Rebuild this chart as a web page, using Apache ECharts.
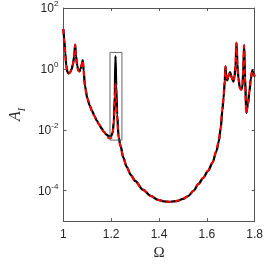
<!DOCTYPE html>
<html>
<head>
<meta charset="utf-8">
<script src="https://cdn.jsdelivr.net/npm/echarts@6/dist/echarts.min.js"></script>
<style>html,body{margin:0;padding:0;background:#fff}#c{width:266px;height:266px}</style>
</head>
<body>
<div id="c"></div>
<script>
// Frequency Omega
const omega = [1.000,1.004,1.008,1.012,1.017,1.022,1.028,1.034,1.040,1.045,1.0495,1.053,1.058,1.063,1.067,1.072,1.077,1.081,1.085,1.090,1.100,1.110,1.120,1.130,1.140,1.150,1.160,1.170,1.180,1.190,1.200,1.206,1.211,1.215,1.218,1.221,1.225,1.231,1.240,1.250,1.265,1.282,1.300,1.333,1.365,1.396,1.420,1.447,1.475,1.500,1.522,1.545,1.565,1.585,1.605,1.624,1.640,1.650,1.658,1.665,1.670,1.675,1.678,1.681,1.685,1.690,1.697,1.704,1.711,1.716,1.720,1.724,1.728,1.732,1.738,1.744,1.749,1.752,1.756,1.760,1.765,1.772,1.778,1.784,1.790,1.795,1.800];
// Amplitude A_I, black solid series
const ampBlack = [20.4,8.71,3.31,1.32,0.794,0.708,0.759,0.955,1.41,2.51,6.31,2.63,1.26,0.871,0.832,1.00,1.41,1.95,0.891,0.282,0.112,0.0631,0.0417,0.0282,0.0200,0.0148,0.0110,0.00851,0.00692,0.00617,0.00631,0.00794,0.0178,0.126,2.63,0.282,0.0316,0.00562,0.00282,0.00126,6.03e-4,3.31e-4,2.09e-4,1.07e-4,6.76e-5,5.01e-5,4.47e-5,4.27e-5,4.57e-5,5.37e-5,6.61e-5,1.00e-4,1.66e-4,2.63e-4,4.47e-4,8.32e-4,2.00e-3,4.17e-3,0.0112,0.0447,0.112,0.398,1.20,0.631,0.417,0.562,0.776,0.525,0.380,0.562,1.26,7.24,1.41,0.501,0.240,0.209,0.263,0.794,6.03,0.501,0.0355,0.0708,0.178,0.479,0.871,0.708,0.562];
// Amplitude A_I, red dashed series
const ampRed = [20.4,8.71,3.31,1.32,0.794,0.708,0.759,0.955,1.41,2.51,6.31,2.63,1.26,0.871,0.832,1.00,1.41,1.95,0.891,0.282,0.112,0.0631,0.0417,0.0282,0.0200,0.0148,0.0110,0.00851,0.00680,0.00525,0.00537,0.00760,0.0160,0.080,0.316,0.100,0.0250,0.00562,0.00282,0.00126,6.03e-4,3.31e-4,2.09e-4,1.07e-4,6.76e-5,5.01e-5,4.47e-5,4.27e-5,4.57e-5,5.37e-5,6.61e-5,1.00e-4,1.66e-4,2.63e-4,4.47e-4,8.32e-4,2.00e-3,4.17e-3,0.0112,0.0447,0.112,0.398,1.20,0.631,0.417,0.562,0.776,0.525,0.380,0.562,1.26,7.24,1.41,0.501,0.240,0.209,0.263,0.794,6.03,0.501,0.0355,0.0708,0.178,0.479,0.871,0.708,0.562];
// Zoom box corners
const boxOmega = [1.195,1.245,1.245,1.195,1.195];
const boxAmp = [3.47,3.47,0.00457,0.00457,3.47];
// Ticks
const xTicks = [1,1.2,1.4,1.6,1.8];
const yTicks = [1e-4,1e-2,1,1e2];

const pair = (xs, ys) => xs.map((x,i)=>[x, ys[i]]);
const axisCol = '#555';
const txtCol = '#262626';
const chart = echarts.init(document.getElementById('c'), null, {renderer:'canvas'});
const yLab = v => { const e = Math.round(Math.log10(v)); return '{b|10}{s|' + e + '}'; };
const yRich = {
  b:{fontFamily:'Liberation Sans',fontSize:12,color:txtCol,verticalAlign:'bottom',lineHeight:14},
  s:{fontFamily:'Liberation Sans',fontSize:8,color:txtCol,verticalAlign:'bottom',lineHeight:14,padding:[0,0,7,0]}
};
chart.setOption({
  animation:false,
  grid:{left:46,right:10,top:6,bottom:38},
  xAxis:[{
    type:'value',min:1,max:1.8,interval:0.2,position:'bottom',
    name:'Ω',nameLocation:'middle',nameGap:24,
    nameTextStyle:{fontFamily:'Liberation Serif',fontSize:15,color:txtCol},
    axisLine:{show:true,lineStyle:{color:axisCol,width:1}},
    axisTick:{show:true,inside:true,length:3,lineStyle:{color:axisCol}},
    axisLabel:{margin:8,fontFamily:'Liberation Sans',fontSize:12,color:txtCol,
      formatter:v=> (Math.abs(v-1)<1e-9 ? '1' : v.toFixed(1))},
    splitLine:{show:false}
  },{
    type:'value',min:1,max:1.8,interval:0.2,position:'top',
    axisLine:{show:true,lineStyle:{color:axisCol,width:1}},
    axisTick:{show:true,inside:true,length:3,lineStyle:{color:axisCol}},
    axisLabel:{show:false},splitLine:{show:false}
  }],
  yAxis:[{
    type:'log',logBase:10,min:1e-5,max:1e2,position:'left',
    name:'{a|A}{i|I}',nameLocation:'middle',nameGap:34,nameRotate:90,
    nameTextStyle:{rich:{
      a:{fontFamily:'Liberation Serif',fontStyle:'italic',fontSize:16,color:txtCol,verticalAlign:'bottom',lineHeight:16},
      i:{fontFamily:'Liberation Serif',fontStyle:'italic',fontSize:10,color:txtCol,verticalAlign:'bottom',lineHeight:16,padding:[0,0,-3,0]}
    }},
    axisLine:{show:true,lineStyle:{color:axisCol,width:1}},
    axisTick:{show:true,inside:true,length:3,lineStyle:{color:axisCol},customValues:yTicks},
    axisLabel:{margin:5,formatter:yLab,rich:yRich,customValues:yTicks},
    splitLine:{show:false}
  },{
    type:'log',logBase:10,min:1e-5,max:1e2,position:'right',
    axisLine:{show:true,lineStyle:{color:axisCol,width:1}},
    axisTick:{show:true,inside:true,length:3,lineStyle:{color:axisCol},customValues:yTicks},
    axisLabel:{show:false},splitLine:{show:false}
  }],
  series:[
    {type:'line',data:pair(omega,ampBlack),showSymbol:false,symbol:'none',smooth:0.3,smoothMonotone:'x',
     lineStyle:{color:'#000',width:2.3},z:2},
    {type:'line',data:pair(omega,ampRed),showSymbol:false,symbol:'none',smooth:0.3,smoothMonotone:'x',
     lineStyle:{color:'#ff0000',width:2,type:[5,4]},z:3},
    {type:'line',data:pair(boxOmega,boxAmp),showSymbol:false,symbol:'none',
     lineStyle:{color:'#666',width:1},z:4}
  ]
});
</script>
</body>
</html>
